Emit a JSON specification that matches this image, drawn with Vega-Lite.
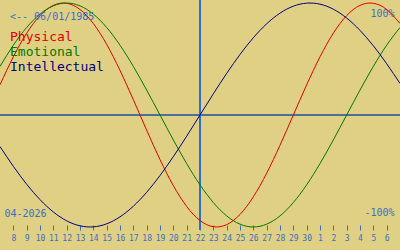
{
  "$schema": "https://vega.github.io/schema/vega-lite/v6.json",
  "width": 400,
  "height": 230,
  "autosize": "none",
  "padding": {"left": 0, "top": 0, "right": 0, "bottom": 20},
  "background": "#e0d084",
  "title": {"text": "<-- 06/01/1985", "anchor": "start", "frame": "group", "offset": -30, "dx": 10, "font": "DejaVu Sans Mono", "fontSize": 10, "fontWeight": "normal", "color": "#3a6fc0", "baseline": "alphabetic"},
  "config": {"view": {"stroke": null}},
  "data": {"values": [
    {"day": 7, "series": "Physical", "v": 0.2698}, {"day": 8, "series": "Physical", "v": 0.5197}, {"day": 9, "series": "Physical", "v": 0.7308}, {"day": 10, "series": "Physical", "v": 0.888}, {"day": 11, "series": "Physical", "v": 0.9791}, {"day": 12, "series": "Physical", "v": 0.9977}, {"day": 13, "series": "Physical", "v": 0.9423}, {"day": 14, "series": "Physical", "v": 0.817}, {"day": 15, "series": "Physical", "v": 0.6311}, {"day": 16, "series": "Physical", "v": 0.3984}, {"day": 17, "series": "Physical", "v": 0.1362}, {"day": 18, "series": "Physical", "v": -0.1362}, {"day": 19, "series": "Physical", "v": -0.3984}, {"day": 20, "series": "Physical", "v": -0.6311}, {"day": 21, "series": "Physical", "v": -0.817}, {"day": 22, "series": "Physical", "v": -0.9423}, {"day": 23, "series": "Physical", "v": -0.9977}, {"day": 24, "series": "Physical", "v": -0.9791}, {"day": 25, "series": "Physical", "v": -0.888}, {"day": 26, "series": "Physical", "v": -0.7308}, {"day": 27, "series": "Physical", "v": -0.5197}, {"day": 28, "series": "Physical", "v": -0.2698}, {"day": 29, "series": "Physical", "v": 0}, {"day": 30, "series": "Physical", "v": 0.2698}, {"day": 31, "series": "Physical", "v": 0.5197}, {"day": 32, "series": "Physical", "v": 0.7308}, {"day": 33, "series": "Physical", "v": 0.888}, {"day": 34, "series": "Physical", "v": 0.9791}, {"day": 35, "series": "Physical", "v": 0.9977}, {"day": 36, "series": "Physical", "v": 0.9423}, {"day": 37, "series": "Physical", "v": 0.817},
    {"day": 7, "series": "Emotional", "v": 0.4339}, {"day": 8, "series": "Emotional", "v": 0.6235}, {"day": 9, "series": "Emotional", "v": 0.7818}, {"day": 10, "series": "Emotional", "v": 0.901}, {"day": 11, "series": "Emotional", "v": 0.9749}, {"day": 12, "series": "Emotional", "v": 1}, {"day": 13, "series": "Emotional", "v": 0.9749}, {"day": 14, "series": "Emotional", "v": 0.901}, {"day": 15, "series": "Emotional", "v": 0.7818}, {"day": 16, "series": "Emotional", "v": 0.6235}, {"day": 17, "series": "Emotional", "v": 0.4339}, {"day": 18, "series": "Emotional", "v": 0.2225}, {"day": 19, "series": "Emotional", "v": 0}, {"day": 20, "series": "Emotional", "v": -0.2225}, {"day": 21, "series": "Emotional", "v": -0.4339}, {"day": 22, "series": "Emotional", "v": -0.6235}, {"day": 23, "series": "Emotional", "v": -0.7818}, {"day": 24, "series": "Emotional", "v": -0.901}, {"day": 25, "series": "Emotional", "v": -0.9749}, {"day": 26, "series": "Emotional", "v": -1}, {"day": 27, "series": "Emotional", "v": -0.9749}, {"day": 28, "series": "Emotional", "v": -0.901}, {"day": 29, "series": "Emotional", "v": -0.7818}, {"day": 30, "series": "Emotional", "v": -0.6235}, {"day": 31, "series": "Emotional", "v": -0.4339}, {"day": 32, "series": "Emotional", "v": -0.2225}, {"day": 33, "series": "Emotional", "v": 0}, {"day": 34, "series": "Emotional", "v": 0.2225}, {"day": 35, "series": "Emotional", "v": 0.4339}, {"day": 36, "series": "Emotional", "v": 0.6235}, {"day": 37, "series": "Emotional", "v": 0.7818},
    {"day": 7, "series": "Intellectual", "v": -0.2817}, {"day": 8, "series": "Intellectual", "v": -0.4582}, {"day": 9, "series": "Intellectual", "v": -0.6182}, {"day": 10, "series": "Intellectual", "v": -0.7557}, {"day": 11, "series": "Intellectual", "v": -0.866}, {"day": 12, "series": "Intellectual", "v": -0.945}, {"day": 13, "series": "Intellectual", "v": -0.9898}, {"day": 14, "series": "Intellectual", "v": -0.9989}, {"day": 15, "series": "Intellectual", "v": -0.9718}, {"day": 16, "series": "Intellectual", "v": -0.9096}, {"day": 17, "series": "Intellectual", "v": -0.8146}, {"day": 18, "series": "Intellectual", "v": -0.6901}, {"day": 19, "series": "Intellectual", "v": -0.5406}, {"day": 20, "series": "Intellectual", "v": -0.3717}, {"day": 21, "series": "Intellectual", "v": -0.1893}, {"day": 22, "series": "Intellectual", "v": 0}, {"day": 23, "series": "Intellectual", "v": 0.1893}, {"day": 24, "series": "Intellectual", "v": 0.3717}, {"day": 25, "series": "Intellectual", "v": 0.5406}, {"day": 26, "series": "Intellectual", "v": 0.6901}, {"day": 27, "series": "Intellectual", "v": 0.8146}, {"day": 28, "series": "Intellectual", "v": 0.9096}, {"day": 29, "series": "Intellectual", "v": 0.9718}, {"day": 30, "series": "Intellectual", "v": 0.9989}, {"day": 31, "series": "Intellectual", "v": 0.9898}, {"day": 32, "series": "Intellectual", "v": 0.945}, {"day": 33, "series": "Intellectual", "v": 0.866}, {"day": 34, "series": "Intellectual", "v": 0.7557}, {"day": 35, "series": "Intellectual", "v": 0.6182}, {"day": 36, "series": "Intellectual", "v": 0.4582}, {"day": 37, "series": "Intellectual", "v": 0.2817}
  ]},
  "layer": [
    {
      "mark": {"type": "rule", "color": "#4e6e9e", "strokeWidth": 1},
      "encoding": {"y": {"datum": 0}}
    },
    {
      "mark": {"type": "rule", "color": "#2f6fd0", "strokeWidth": 1},
      "encoding": {"x": {"datum": 22}}
    },
    {
      "mark": {"type": "line", "interpolate": "natural", "strokeWidth": 1, "clip": true},
      "encoding": {
        "x": {
          "field": "day", "type": "quantitative",
          "scale": {"domain": [7, 37], "nice": false, "zero": false},
          "axis": {
            "values": [8, 9, 10, 11, 12, 13, 14, 15, 16, 17, 18, 19, 20, 21, 22, 23, 24, 25, 26, 27, 28, 29, 30, 31, 32, 33, 34, 35, 36],
            "tickCount": 40,
            "labelExpr": "datum.value > 30 ? datum.value - 30 : datum.value",
            "offset": -5, "tickSize": 5, "tickColor": "#3a6fc0", "tickWidth": 1,
            "domain": false, "grid": false, "labelPadding": 4,
            "labelFont": "DejaVu Sans Mono", "labelFontSize": 8, "labelColor": "#3a6fc0",
            "labelFlush": false, "labelOverlap": false, "labelBound": false,
            "title": "04-2026", "titleAnchor": "start", "titleAlign": "left", "titleX": 4, "titleY": -9,
            "titleBaseline": "alphabetic", "titleFont": "DejaVu Sans Mono", "titleFontSize": 10,
            "titleFontWeight": "normal", "titleColor": "#3a6fc0"
          }
        },
        "y": {
          "field": "v", "type": "quantitative",
          "scale": {"domain": [-1.027, 1.027], "nice": false, "zero": false},
          "axis": {
            "orient": "right", "values": [1, -1],
            "labelExpr": "datum.value > 0 ? '100%' : '-100%'",
            "ticks": false, "domain": false, "grid": false, "title": null,
            "offset": -6, "labelAlign": "right", "labelPadding": 0, "labelBaseline": "alphabetic",
            "labelOffset": {"condition": {"test": "datum.value > 0", "value": 13}, "value": -11},
            "labelFont": "DejaVu Sans Mono", "labelFontSize": 10, "labelColor": "#3a6fc0",
            "labelFlush": false, "labelOverlap": false, "labelBound": false
          }
        },
        "color": {
          "field": "series", "type": "nominal",
          "scale": {"domain": ["Physical", "Emotional", "Intellectual"], "range": ["#e00000", "#007800", "#000080"]},
          "legend": {
            "orient": "none", "legendX": -3, "legendY": 30, "title": null,
            "labelFont": "DejaVu Sans Mono", "labelFontSize": 13,
            "symbolSize": 0, "symbolStrokeWidth": 0, "symbolOpacity": 0, "labelOffset": 0,
            "rowPadding": 1, "padding": 0,
            "encode": {"labels": {"update": {"fill": {"scale": "color", "field": "value"}}}}
          }
        }
      }
    }
  ]
}
